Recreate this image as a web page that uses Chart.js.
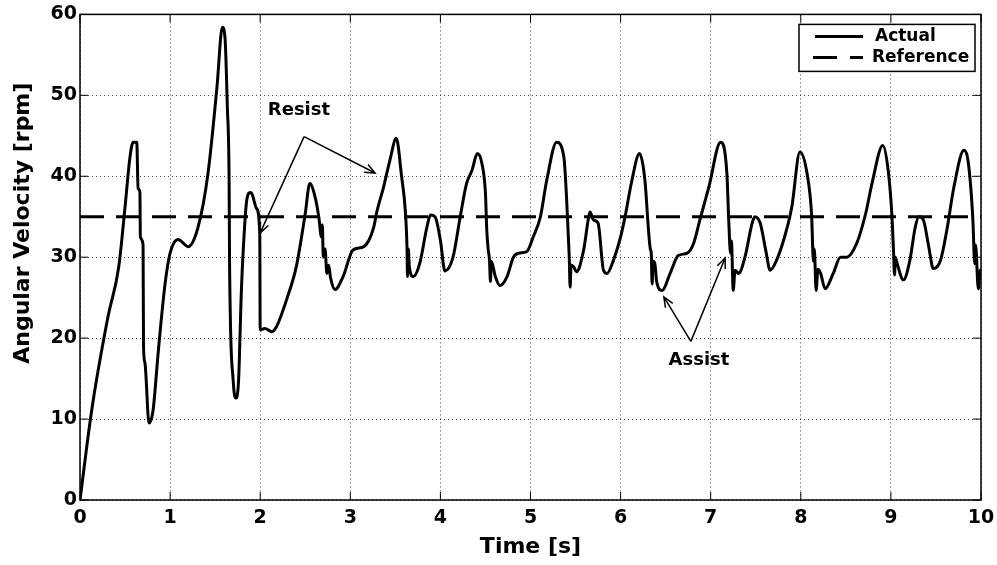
<!DOCTYPE html>
<html>
<head>
<meta charset="utf-8">
<script src="https://cdn.jsdelivr.net/npm/chart.js@4.4.0/dist/chart.umd.min.js"></script>
<style>
  html, body { margin: 0; padding: 0; background: #fff; }
  #wrap { width: 997px; height: 565px; }
</style>
</head>
<body>
<div id="wrap"><canvas id="velChart" width="997" height="565"></canvas></div>
<script>
var timeS = [0, 0.13, 0.31, 0.43, 0.5, 0.555, 0.59, 0.63, 0.645, 0.665, 0.67, 0.7, 0.705, 0.72, 0.766, 0.81, 0.87, 0.944,
  1.0, 1.09, 1.2, 1.31, 1.42, 1.52, 1.58, 1.61, 1.635, 1.655, 1.66, 1.7, 1.73, 1.76, 1.79, 1.81, 1.85, 1.89, 1.91, 1.96, 1.995, 2.0,
  2.05, 2.13, 2.18, 2.3, 2.4, 2.5, 2.55, 2.61, 2.65, 2.68, 2.69, 2.7, 2.72, 2.74, 2.76, 2.78, 2.83, 2.92,
  3.03, 3.15, 3.26, 3.29, 3.37, 3.44, 3.51, 3.57, 3.61, 3.63, 3.635, 3.645, 3.655, 3.7, 3.77, 3.85, 3.89, 3.94,
  4.0, 4.05, 4.14, 4.22, 4.29, 4.35, 4.41, 4.46, 4.5, 4.515, 4.53, 4.545, 4.555, 4.565, 4.61, 4.66, 4.74, 4.81, 4.87, 4.96,
  5.03, 5.11, 5.18, 5.29, 5.37, 5.4, 5.42, 5.43, 5.44, 5.45, 5.48, 5.51, 5.59, 5.64, 5.66, 5.7, 5.75, 5.81, 5.85, 5.92,
  6.0, 6.06, 6.12, 6.21, 6.27, 6.31, 6.33, 6.34, 6.35, 6.36, 6.38, 6.4, 6.46, 6.55, 6.64, 6.74, 6.81, 6.88, 6.98,
  7.11, 7.18, 7.2, 7.22, 7.23, 7.25, 7.27, 7.31, 7.38, 7.46, 7.49, 7.55, 7.61, 7.66, 7.73, 7.83, 7.9, 7.99,
  8.07, 8.12, 8.14, 8.15, 8.17, 8.19, 8.22, 8.27, 8.36, 8.44, 8.51, 8.62, 8.72, 8.79, 8.91, 8.97,
  9.01, 9.03, 9.04, 9.05, 9.06, 9.14, 9.21, 9.27, 9.31, 9.36, 9.42, 9.47, 9.55, 9.62, 9.7, 9.81, 9.86, 9.91, 9.93, 9.94, 9.97, 9.99, 10.0];
var actualRpm = [0, 11.1, 22.6, 28.8, 36.2, 42.4, 44.2, 44.2, 38.5, 38, 32.5, 31.5, 19, 17, 9.5, 11, 18.5, 26.7,
  30.5, 32.2, 31.3, 33.7, 40.3, 51, 58.4, 57, 48.6, 39.3, 29.2, 14.8, 12.6, 14.8, 25.5, 30.5, 37, 38, 37.8, 36, 33, 21,
  21.2, 20.8, 21.4, 25, 28.8, 35.4, 39.1, 37.4, 35, 32.5, 34, 30, 31, 28, 29, 27.5, 26, 27.6,
  30.9, 31.3, 33.7, 35.4, 38.7, 42, 44.7, 39.9, 35.8, 30.9, 27.6, 31, 28.8, 27.6, 29.2, 33.7, 35.2, 35,
  32.1, 28.3, 30, 35, 39.1, 40.7, 42.8, 41.6, 37.9, 33.3, 31, 29.6, 27, 29.5, 27.6, 26.5, 27.6, 30, 30.5, 30.7,
  32.5, 35, 39.5, 44.2, 42.4, 37.4, 32.5, 30, 26.3, 29, 28.8, 28.2, 30.9, 34.6, 35.6, 34.6, 34.2, 28.4, 28, 29.6,
  32.5, 35.6, 39.2, 42.8, 39.5, 33.3, 31, 30.5, 26.7, 29.5, 29.2, 27, 25.9, 28, 30.2, 30.5, 31.7, 34.6, 38.7,
  44.2, 40.3, 34.6, 30.5, 32, 25.9, 28.4, 28, 30, 34.2, 35, 34.2, 30.9, 28.4, 29.6, 32.9, 36.2, 43,
  40.3, 35.2, 29.5, 31, 25.9, 28.5, 28, 26.1, 28, 30, 30, 31.7, 35.4, 39.1, 43.8, 40.7,
  35.4, 30.5, 27.8, 30, 29.6, 27.2, 29.6, 33.7, 35, 34.6, 31.3, 28.6, 29.6, 33.3, 38.7, 43.2, 41.6, 34.6, 29.2, 31.5, 26.1, 28.4, 28.4];
var refTime = [0, 10];
var refRpm = [35, 35];
var xTicks = [0, 1, 2, 3, 4, 5, 6, 7, 8, 9, 10];
var yTicks = [0, 10, 20, 30, 40, 50, 60];

function pairs(xs, ys) {
  var out = [];
  for (var i = 0; i < xs.length; i++) out.push({ x: xs[i], y: ys[i] });
  return out;
}

var FONT = '"DejaVu Sans", sans-serif';

function arrow(ctx, x0, y0, x1, y1) {
  var ang = Math.atan2(y1 - y0, x1 - x0);
  var len = 11, spread = 0.4;
  ctx.beginPath();
  ctx.moveTo(x0, y0);
  ctx.lineTo(x1, y1);
  ctx.moveTo(x1 - len * Math.cos(ang - spread), y1 - len * Math.sin(ang - spread));
  ctx.lineTo(x1, y1);
  ctx.lineTo(x1 - len * Math.cos(ang + spread), y1 - len * Math.sin(ang + spread));
  ctx.stroke();
}

var decorations = {
  id: 'decorations',
  afterDatasetsDraw: function (chart) {
    var ctx = chart.ctx, a = chart.chartArea;
    var xs = chart.scales.x, ys = chart.scales.y;
    ctx.save();
    // frame and inward ticks
    ctx.strokeStyle = '#000';
    ctx.lineWidth = 1.5;
    ctx.strokeRect(a.left, a.top, a.right - a.left, a.bottom - a.top);
    ctx.lineWidth = 1;
    ctx.beginPath();
    xTicks.forEach(function (t) {
      var px = xs.getPixelForValue(t);
      ctx.moveTo(px, a.bottom); ctx.lineTo(px, a.bottom - 8);
      ctx.moveTo(px, a.top); ctx.lineTo(px, a.top + 8);
    });
    yTicks.forEach(function (t) {
      var py = ys.getPixelForValue(t);
      ctx.moveTo(a.left, py); ctx.lineTo(a.left + 8, py);
      ctx.moveTo(a.right, py); ctx.lineTo(a.right - 8, py);
    });
    ctx.stroke();

    // y axis title (sits above the axis centre in the original)
    ctx.fillStyle = '#000';
    ctx.font = 'bold 22px ' + FONT;
    ctx.textAlign = 'center';
    ctx.textBaseline = 'middle';
    ctx.save();
    ctx.translate(23, ys.getPixelForValue(34.2));
    ctx.rotate(-Math.PI / 2);
    ctx.fillText('Angular Velocity [rpm]', 0, 0);
    ctx.restore();

    // annotations
    ctx.lineWidth = 1.5;
    ctx.font = 'bold 18px ' + FONT;
    ctx.fillText('Resist', xs.getPixelForValue(2.43), ys.getPixelForValue(48.1));
    var rx = xs.getPixelForValue(2.487), ry = ys.getPixelForValue(44.9);
    arrow(ctx, rx, ry, xs.getPixelForValue(2.0), ys.getPixelForValue(33.0));
    arrow(ctx, rx, ry, xs.getPixelForValue(3.275), ys.getPixelForValue(40.4));
    ctx.fillText('Assist', xs.getPixelForValue(6.87), ys.getPixelForValue(17.3));
    var ax = xs.getPixelForValue(6.78), ay = ys.getPixelForValue(19.6);
    arrow(ctx, ax, ay, xs.getPixelForValue(6.48), ys.getPixelForValue(25.1));
    arrow(ctx, ax, ay, xs.getPixelForValue(7.16), ys.getPixelForValue(29.9));

    // legend box
    var lr = a.right - 6, lt = a.top + 10, lw = 176, lh = 47;
    var ll = lr - lw;
    ctx.fillStyle = '#fff';
    ctx.fillRect(ll, lt, lw, lh);
    ctx.strokeRect(ll, lt, lw, lh);
    ctx.lineWidth = 3;
    ctx.beginPath();
    ctx.moveTo(ll + 16, lt + 12); ctx.lineTo(ll + 64, lt + 12);
    ctx.stroke();
    ctx.setLineDash([24, 13]);
    ctx.beginPath();
    ctx.moveTo(ll + 14, lt + 33); ctx.lineTo(ll + 64, lt + 33);
    ctx.stroke();
    ctx.setLineDash([]);
    ctx.fillStyle = '#000';
    ctx.font = 'bold 17px ' + FONT;
    ctx.textAlign = 'left';
    ctx.fillText('Actual', ll + 76, lt + 12);
    ctx.fillText('Reference', ll + 73, lt + 33);
    ctx.restore();
  }
};

new Chart(document.getElementById('velChart'), {
  type: 'line',
  data: {
    datasets: [
      {
        label: 'Actual',
        data: pairs(timeS, actualRpm),
        borderColor: '#000',
        borderWidth: 3,
        pointRadius: 0,
        cubicInterpolationMode: 'monotone',
        fill: false
      },
      {
        label: 'Reference',
        data: pairs(refTime, refRpm),
        borderColor: '#000',
        borderWidth: 3,
        borderDash: [24, 12],
        pointRadius: 0,
        tension: 0,
        fill: false
      }
    ]
  },
  options: {
    responsive: false,
    animation: false,
    events: [],
    layout: { padding: { top: 14, right: 16, left: 0, bottom: 0 } },
    plugins: {
      legend: { display: false },
      tooltip: { enabled: false }
    },
    scales: {
      x: {
        type: 'linear',
        min: 0,
        max: 10,
        afterBuildTicks: function (s) { s.ticks = xTicks.map(function (v) { return { value: v }; }); },
        afterFit: function (s) { s.height = 65; s.paddingLeft = 0; s.paddingRight = 0; },
        grid: { color: '#444', lineWidth: 1, drawTicks: false },
        border: { display: false, dash: [1, 3] },
        ticks: { color: '#000', padding: 7, font: { family: FONT, size: 19, weight: 'bold' } },
        title: {
          display: true,
          text: 'Time [s]',
          color: '#000',
          font: { family: FONT, size: 22, weight: 'bold' },
          padding: { top: 0, bottom: 5 }
        }
      },
      y: {
        min: 0,
        max: 60,
        afterBuildTicks: function (s) { s.ticks = yTicks.map(function (v) { return { value: v }; }); },
        afterFit: function (s) { s.width = 80; },
        grid: { color: '#444', lineWidth: 1, drawTicks: false },
        border: { display: false, dash: [1, 3] },
        ticks: { color: '#000', padding: 3, font: { family: FONT, size: 19, weight: 'bold' } },
        title: { display: false }
      }
    }
  },
  plugins: [decorations]
});
</script>
</body>
</html>
